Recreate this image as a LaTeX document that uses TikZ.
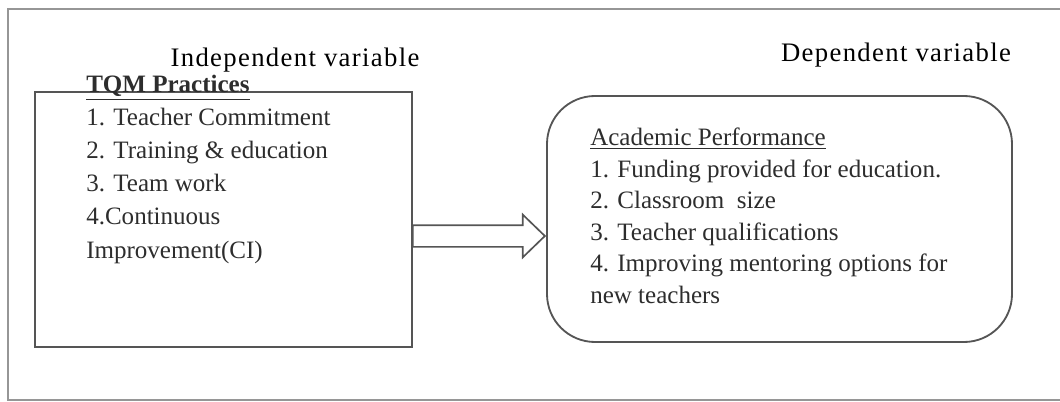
\documentclass[tikz,border=0pt]{standalone}
\usepackage{fontspec}
\setmainfont{Liberation Serif}
\definecolor{gris}{RGB}{150,150,150}
\definecolor{grisosc}{RGB}{85,85,85}
\definecolor{tinta}{RGB}{45,45,45}
\usetikzlibrary{shapes.arrows}

\begin{document}
\begin{tikzpicture}[
    caja/.style={draw=grisosc,line width=1.3pt},
    lista/.style={align=left,inner sep=0pt,anchor=base west,text=tinta},
    titulo/.style={inner sep=0pt,
      font=\fontsize{19}{23}\selectfont\addfontfeature{LetterSpace=5}},
    bloque/.style={single arrow,draw=grisosc,line width=1.2pt,
      inner sep=0.25cm,single arrow head extend=0.2625cm,
      single arrow tip angle=88,minimum height=3.3cm}]
  % 1cm = 40px of the page
  \useasboundingbox (0,0) rectangle (26.5,-10.05);
  \draw[gris,line width=0.8pt] (26.6,-0.225) -- (0.2,-0.225)
    -- (0.2,-10.0) -- (26.6,-10.0); % open on the right

  \node[titulo] (indep) at (7.375,-1.5)  {Independent variable};
  \node[titulo] (dep)   at (22.4,-1.375) {Dependent variable};

  % boxes
  \node[caja,minimum width=9.425cm,minimum height=6.375cm]
    (tqm) at (5.5875,-5.4875) {};
  \node[caja,rounded corners=1.2cm,minimum width=11.625cm,minimum height=6.15cm]
    (perf) at (19.4875,-5.475) {};

  % base = last line
  \node[lista,font=\fontsize{17.8}{23.5}\selectfont] (tqmtxt) at (2.15,-6.45)
    {\textbf{\underline{TQM Practices}}\\
     1. Teacher Commitment\\
     2. Training \& education\\
     3. Team work\\
     4.Continuous\\
     Improvement(CI)};
  \node[lista,font=\fontsize{17.8}{22.4}\selectfont] (perftxt) at (14.75,-7.58)
    {\underline{Academic Performance}\\
     1. Funding provided for education.\\
     2. Classroom\ \ size\\
     3. Teacher qualifications\\
     4. Improving mentoring options for\\
     new teachers};

  % block arrow tqm -> perf
  \coordinate (eje) at (0,-5.9);
  \node[bloque,anchor=tip] (flecha) at (perf.west |- eje) {};
\end{tikzpicture}
\end{document}
